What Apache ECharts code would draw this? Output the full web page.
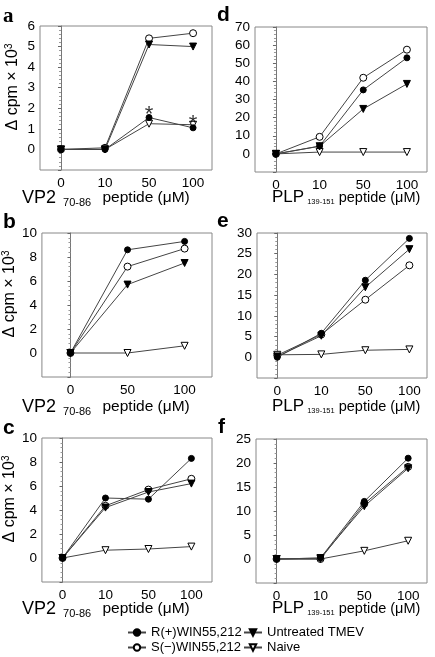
<!DOCTYPE html>
<html><head><meta charset="utf-8">
<script src="https://cdn.jsdelivr.net/npm/echarts@6/dist/echarts.min.js"></script>
<style>html,body{margin:0;padding:0;background:#fff}#c{width:435px;height:657px}</style>
</head><body><div id="c"></div>
<script>
// Categories (peptide concentrations, µM)
const cats4 = ['0', '10', '50', '100'];
const cats3 = ['0', '50', '100'];
const seriesNames = ['R(+)WIN55,212', 'S(\u2212)WIN55,212', 'Untreated TMEV', 'Naive'];

// Panel a: VP2 70-86
const aR = [0, 0, 1.55, 1.05];
const aS = [0, 0.08, 5.4, 5.65];
const aU = [0, 0, 5.1, 5.0];
const aN = [0, 0, 1.25, 1.2];
const aStars = [[2, 2.0], [3, 1.6]];
// Panel b: VP2 70-86
const bR = [0, 8.6, 9.3];
const bS = [0, 7.2, 8.7];
const bU = [0, 5.7, 7.5];
const bN = [0, 0, 0.6];
// Panel c: VP2 70-86
const cR = [0, 5.0, 4.9, 8.3];
const cS = [0, 4.35, 5.7, 6.6];
const cU = [0, 4.2, 5.5, 6.2];
const cN = [0, 0.65, 0.75, 0.95];
// Panel d: PLP 139-151
const dR = [0, 4.3, 35.3, 53];
const dS = [0, 9.4, 42, 57.5];
const dU = [0, 4.2, 24.8, 38.6];
const dN = [0, 1, 1, 1];
// Panel e: PLP 139-151
const eR = [0, 5.8, 18.6, 28.7];
const eS = [0.5, 5.5, 13.9, 22.2];
const eU = [0.2, 5.2, 16.9, 26.1];
const eN = [0.6, 0.7, 1.7, 1.9];
// Panel f: PLP 139-151
const fR = [0, 0.2, 12, 21];
const fS = [0, 0, 11.5, 19.2];
const fU = [0, 0.2, 11, 18.9];
const fN = [0, 0, 1.7, 3.8];

// Y axis ranges/ticks
const yA = {min: -1, max: 6, step: 1};
const yB = {min: -2, max: 10, step: 2};
const yC = {min: -2, max: 10, step: 2};
const yD = {min: -10, max: 70, step: 10};
const yE = {min: -5, max: 30, step: 5};
const yF = {min: -5, max: 25, step: 5};

const FONT = 'Liberation Sans, Arial, sans-serif';
const panels = [
  {key:'a', cats:cats4, data:[aR,aS,aU,aN], y:yA, grid:{left:40, top:26, width:172, height:144}, xr:[-0.477, 3.43], yname:true},
  {key:'b', cats:cats3, data:[bR,bS,bU,bN], y:yB, grid:{left:39, top:233, width:173, height:144}, xr:[-0.5, 2.48], yname:true},
  {key:'c', cats:cats4, data:[cR,cS,cU,cN], y:yC, grid:{left:39, top:438, width:173, height:144}, xr:[-0.48, 3.48], yname:true},
  {key:'d', cats:cats4, data:[dR,dS,dU,dN], y:yD, grid:{left:255, top:27, width:172, height:145}, xr:[-0.48, 3.46], yname:false},
  {key:'e', cats:cats4, data:[eR,eS,eU,eN], y:yE, grid:{left:257, top:233, width:170, height:145}, xr:[-0.46, 3.4], yname:false},
  {key:'f', cats:cats4, data:[fR,fS,fU,fN], y:yF, grid:{left:256, top:439, width:171, height:144}, xr:[-0.47, 3.43], yname:false}
];

const symbols = [
  {symbol:'circle', rotate:0, fill:'#000', size:6},
  {symbol:'circle', rotate:0, fill:'#fff', size:7},
  {symbol:'triangle', rotate:180, fill:'#000', size:7},
  {symbol:'triangle', rotate:180, fill:'#fff', size:7}
];

const grids = [], xAxes = [], yAxes = [], series = [];
panels.forEach((p, i) => {
  grids.push(Object.assign({show:true, borderColor:'#888', borderWidth:1, backgroundColor:'transparent'}, p.grid));
  const cvals = p.cats.map((_, k) => k);
  xAxes.push({
    type:'value', gridIndex:i, min:p.xr[0], max:p.xr[1],
    axisLine:{show:false}, axisTick:{show:false}, splitLine:{show:false},
    axisLabel:{customValues:cvals, formatter:(v)=>p.cats[Math.round(v)], fontSize:13.5, color:'#000', fontFamily:FONT, margin:6}
  });
  const yax = {
    type:'value', gridIndex:i, min:p.y.min, max:p.y.max, interval:p.y.step,
    axisLine:{show:true, lineStyle:{color:'#777', width:1}},
    axisTick:{show:true, length:3, lineStyle:{color:'#666'}},
    minorTick:{show:true, splitNumber:5, length:2, lineStyle:{color:'#999'}},
    splitLine:{show:false},
    axisLabel:{formatter:(v)=> v < 0 ? '' : String(v), fontSize:13.5, color:'#000', fontFamily:FONT, margin:5}
  };
  if (p.yname) {
    yax.name = '\u0394 cpm \u00d7 10{sup|3}';
    yax.nameLocation = 'middle';
    yax.nameGap = 18;
    yax.nameTextStyle = {fontSize:16, color:'#000', fontFamily:FONT, padding:[0,0,0,22],
      rich:{sup:{fontSize:10, verticalAlign:'top', padding:[0,0,8,0], fontFamily:FONT, color:'#000'}}};
  }
  yAxes.push(yax);
  p.data.forEach((arr, s) => {
    const sym = symbols[s];
    series.push({
      name:seriesNames[s], type:'line', xAxisIndex:i, yAxisIndex:i,
      data:arr.map((v, k) => [k, v]),
      symbol:sym.symbol, symbolRotate:sym.rotate, symbolSize:sym.size, showSymbol:true,
      lineStyle:{color:'#444', width:1},
      itemStyle:{color:sym.fill, borderColor:'#000', borderWidth:1},
      emphasis:{disabled:true}, animation:false, z:2 + (s===0||s===2 ? 1 : 0)
    });
  });
});
// asterisks in panel a
series.push({
  name:'sig', type:'scatter', xAxisIndex:0, yAxisIndex:0, data:aStars, symbolSize:0,
  label:{show:true, formatter:'*', fontSize:22, color:'#000', fontFamily:FONT, position:'inside', offset:[0,7]},
  animation:false, silent:true
});

const legendCommon = {orient:'vertical', itemWidth:18, itemHeight:8, itemGap:2, height:40,
  textStyle:{fontSize:13, color:'#000', fontFamily:FONT}, selectedMode:false};
const option = {
  animation:false,
  grid:grids, xAxis:xAxes, yAxis:yAxes, series:series,
  legend:[
    Object.assign({}, legendCommon, {left:122, bottom:-2, data:[seriesNames[0], seriesNames[1]]}),
    Object.assign({}, legendCommon, {left:238, bottom:-2, data:[seriesNames[2], seriesNames[3]]})
  ],
  graphic:[
    {type:'text', left:3, top:6, style:{text:'a', font:'bold 21px Liberation Serif, serif', fill:'#000'}},
    {type:'text', left:3, top:212, style:{text:'b', font:'bold 21px Liberation Sans, sans-serif', fill:'#000'}},
    {type:'text', left:3, top:418, style:{text:'c', font:'bold 21px Liberation Sans, sans-serif', fill:'#000'}},
    {type:'text', left:217, top:5, style:{text:'d', font:'bold 21px Liberation Sans, sans-serif', fill:'#000'}},
    {type:'text', left:217, top:211, style:{text:'e', font:'bold 21px Liberation Sans, sans-serif', fill:'#000'}},
    {type:'text', left:218, top:417, style:{text:'f', font:'bold 21px Liberation Sans, sans-serif', fill:'#000'}},
    ...[189, 398, 600].map(t => ({type:'text', left:22, top:t, style:{
      text:'{m|VP2}{s|70-86}{p| peptide (\u03bcM)}', fill:'#000',
      rich:{m:{fontSize:18, fontFamily:FONT, fill:'#000', padding:[0,4,0,0]},
            s:{fontSize:11, verticalAlign:'bottom', padding:[9,7,0,3], fill:'#000', fontFamily:FONT},
            p:{fontSize:15.5, fontFamily:FONT, fill:'#000'}}}})),
    ...[189, 398, 600].map(t => ({type:'text', left:272, top:t, style:{
      text:'{m|PLP}{s|139-151}{p| peptide (\u03bcM)}', fill:'#000',
      rich:{m:{fontSize:17, fontFamily:FONT, fill:'#000'},
            s:{fontSize:7.5, verticalAlign:'bottom', padding:[9,0,0,3], fill:'#000', fontFamily:FONT},
            p:{fontSize:14.5, fontFamily:FONT, fill:'#000'}}}}))
  ]
};
const chart = echarts.init(document.getElementById('c'), null, {renderer:'canvas'});
chart.setOption(option);
</script>
</body></html>
